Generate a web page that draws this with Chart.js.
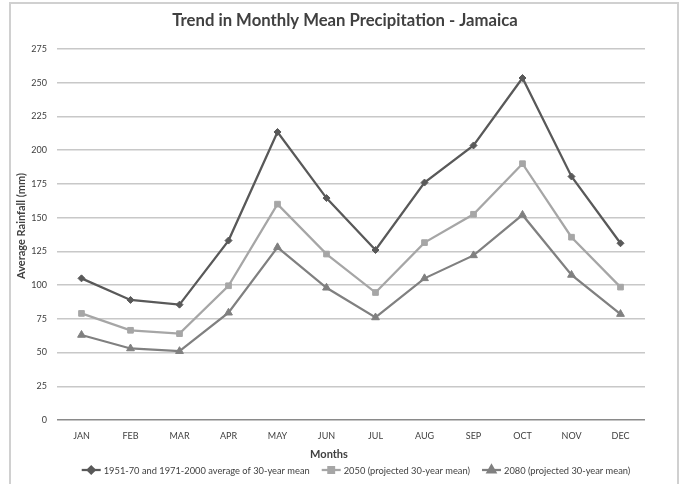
<!DOCTYPE html>
<html>
<head>
<meta charset="utf-8">
<script src="https://cdn.jsdelivr.net/npm/chart.js@4/dist/chart.umd.min.js"></script>
<style>
  html, body { margin: 0; padding: 0; background: #ffffff; }
  #wrap { width: 683px; height: 484px; }
</style>
</head>
<body>
<div id="wrap"><canvas id="c" width="683" height="484"></canvas></div>
<script>
// Monthly mean precipitation for Jamaica (mm)
const months = ['JAN', 'FEB', 'MAR', 'APR', 'MAY', 'JUN', 'JUL', 'AUG', 'SEP', 'OCT', 'NOV', 'DEC'];
const baseline = [105, 89, 85.5, 133, 213.5, 164.5, 126, 176, 203.5, 253.5, 180.5, 131];
const proj2050 = [79, 66.5, 64, 99.5, 160, 123, 94.5, 131.5, 152.5, 190, 135.5, 98.5];
const proj2080 = [63, 53, 51, 79.5, 128, 98, 76, 105, 122, 152, 107.5, 78.5];
const seriesNames = [
  '1951-70 and 1971-2000 average of 30-year mean',
  '2050 (projected 30-year mean)',
  '2080 (projected 30-year mean)'
];
const yMin = 0, yMax = 275, yStep = 25;

const chartTitle = 'Trend in Monthly Mean Precipitation - Jamaica';
const xTitle = 'Months';
const yTitle = 'Average Rainfall (mm)';

const FONT = 'Lato, "Open Sans", sans-serif';
const TEXT = '#404040';

function series(label, data, color, pointStyle, radius) {
  return {
    label, data,
    borderColor: color, backgroundColor: color,
    pointBackgroundColor: color, pointBorderColor: color,
    borderWidth: 2.25, pointStyle, pointRadius: radius, pointHoverRadius: radius,
    pointBorderWidth: 1, tension: 0, fill: false
  };
}

// Frame, title, axis titles and the legend row
const decorations = {
  id: 'decorations',
  beforeDraw(chart) {
    const ctx = chart.ctx;
    ctx.save();
    ctx.strokeStyle = '#d0d0d0';
    ctx.lineWidth = 2;
    ctx.beginPath();
    ctx.moveTo(10, 484);
    ctx.lineTo(10, 3);
    ctx.lineTo(678, 3);
    ctx.lineTo(678, 484);
    ctx.stroke();
    ctx.restore();
  },
  afterDraw(chart) {
    const ctx = chart.ctx;
    ctx.save();
    ctx.fillStyle = TEXT;
    ctx.textBaseline = 'middle';
    ctx.textAlign = 'center';

    ctx.font = 'bold 16.7px ' + FONT;
    ctx.fillText(chartTitle, 345, 21);

    ctx.font = 'bold 11px ' + FONT;
    ctx.fillText(xTitle, 329, 454);

    ctx.save();
    ctx.translate(21, 226);
    ctx.rotate(-Math.PI / 2);
    ctx.fillText(yTitle, 0, 0);
    ctx.restore();

    // legend: line + marker, then label
    ctx.font = '9.3px ' + FONT;
    ctx.textAlign = 'left';
    const lineLen = 19, gapText = 3, gapItem = 12;
    const widths = chart.data.datasets.map(d => ctx.measureText(d.label).width);
    const total = widths.reduce((s, w) => s + lineLen + gapText + w, 0) + gapItem * (widths.length - 1);
    let x = 356 - total / 2;
    const y = 470;
    chart.data.datasets.forEach((d, i) => {
      ctx.strokeStyle = d.borderColor;
      ctx.lineWidth = 2.25;
      ctx.beginPath();
      ctx.moveTo(x, y);
      ctx.lineTo(x + lineLen, y);
      ctx.stroke();
      ctx.fillStyle = d.borderColor;
      Chart.helpers.drawPoint(ctx, { pointStyle: d.pointStyle, radius: d.pointRadius, borderWidth: 1 }, x + lineLen / 2, y);
      ctx.fillStyle = TEXT;
      ctx.fillText(d.label, x + lineLen + gapText, y + 0.5);
      x += lineLen + gapText + widths[i] + gapItem;
    });
    ctx.restore();
  }
};

new Chart(document.getElementById('c'), {
  type: 'line',
  data: {
    labels: months,
    datasets: [
      series(seriesNames[0], baseline, '#595959', 'rectRot', 3.5),
      series(seriesNames[1], proj2050, '#a6a6a6', 'rect', 4),
      series(seriesNames[2], proj2080, '#808080', 'triangle', 4.5)
    ]
  },
  options: {
    responsive: false,
    animation: false,
    devicePixelRatio: 1,
    layout: { padding: { top: 49, right: 38, bottom: 0, left: 0 } },
    plugins: { legend: { display: false }, title: { display: false }, tooltip: { enabled: false } },
    scales: {
      x: {
        offset: true,
        grid: { display: false, drawTicks: false },
        border: { display: false },
        ticks: { color: TEXT, font: { family: FONT, size: 9 }, padding: 11, maxRotation: 0 },
        afterFit(scale) { scale.height = 64; }
      },
      y: {
        min: yMin, max: yMax,
        grid: {
          drawTicks: false,
          lineWidth: 1.5,
          color: c => (c.tick && c.tick.value === 0) ? '#8a8a8a' : '#c8c8c8'
        },
        border: { display: false },
        ticks: { stepSize: yStep, color: TEXT, font: { family: FONT, size: 9 }, padding: 10 },
        afterFit(scale) { scale.width = 57; }
      }
    }
  },
  plugins: [decorations]
});
</script>
</body>
</html>
